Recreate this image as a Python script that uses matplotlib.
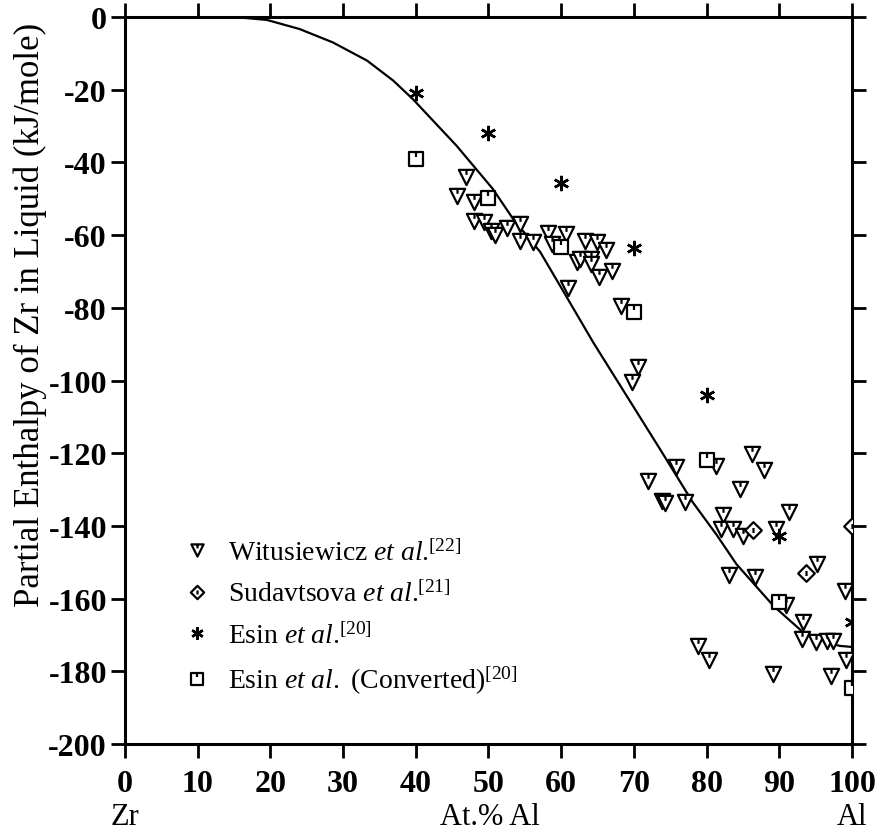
import numpy as np
import matplotlib
matplotlib.use("Agg")
import matplotlib.pyplot as plt
from matplotlib.path import Path

plt.rcParams['font.family'] = ['Liberation Serif', 'DejaVu Serif']
plt.rcParams['mathtext.fontset'] = 'custom'
plt.rcParams['mathtext.rm'] = 'Liberation Serif'
plt.rcParams['mathtext.it'] = 'Liberation Serif:italic'
plt.rcParams['axes.unicode_minus'] = False

# calculated curve
curve_x = [0, 15, 19.5, 24, 28.6, 33.3, 36.9, 39.6, 45.6, 50.6, 53.4, 57.1,
           60.1, 64.4, 69.0, 73.6, 78.1, 81.4, 84.1, 89.2, 93.3, 96.6, 98.3, 100]
curve_y = [0, 0, -0.8, -3.3, -7.0, -12.0, -17.5, -22.6, -35.4, -47.3, -55.6, -64.6,
           -74.8, -89.5, -104.2, -118.9, -133.5, -142.5, -150.5, -162, -169.3, -172, -173, -173.3]

# Witusiewicz et al. [22]
wit_x = [46.9, 45.6, 48.0, 48.0, 49.4, 50.4, 50.9, 52.5, 54.3, 54.3, 56.1, 58.2,
         58.7, 60.7, 63.3, 64.9, 66.2, 62.2, 62.6, 64.1, 64.1, 67.0, 65.2, 60.9,
         68.2, 70.6, 69.8, 81.3, 86.2, 87.9, 75.8, 72.0, 84.6, 73.9, 74.3, 77.0,
         82.3, 91.3, 82.0, 83.6, 85.0, 89.5, 95.2, 83.1, 86.7, 90.9, 99.0, 93.2,
         93.1, 95.0, 96.6, 97.4, 78.8, 80.4, 99.2, 89.1, 97.1]
wit_y = [-44.0, -49.2, -50.9, -56.1, -56.4, -59.0, -60.0, -58.0, -57.0, -61.6, -61.9, -59.4,
         -62.4, -59.7, -61.6, -61.9, -64.1, -67.4, -66.6, -66.6, -67.9, -69.9, -71.5, -74.6,
         -79.6, -96.3, -100.5, -123.4, -120.2, -124.6, -123.8, -127.6, -129.9, -133.2, -133.6, -133.5,
         -137.0, -136.2, -140.9, -140.9, -142.7, -140.9, -150.5, -153.5, -154.0, -161.8, -157.9, -166.4,
         -171.0, -172.0, -171.6, -171.6, -173.0, -177.0, -177.0, -180.8, -181.2]

# Sudavtsova et al. [21]
sud_x = [86.4, 93.7, 100]
sud_y = [-141.1, -153.0, -140.0]

# Esin et al. [20]
esin_x = [40, 50, 60, 70, 80, 90, 100]
esin_y = [-21, -32, -45.7, -63.5, -104, -142.7, -166.5]

# Esin et al. converted [20]
conv_x = [40, 50, 60, 70, 80, 90, 100]
conv_y = [-39, -49.8, -63.3, -81.2, -121.8, -161, -184.6]

# open markers with the little stroke from the top edge
tri = Path([(-1, 1), (1, 1), (0, -1), (-1, 1), (0, 1), (0, 0.35)],
           [Path.MOVETO, Path.LINETO, Path.LINETO, Path.CLOSEPOLY, Path.MOVETO, Path.LINETO])
sq = Path([(-1, -1), (1, -1), (1, 1), (-1, 1), (-1, -1), (0, 1), (0, 0.3)],
          [Path.MOVETO, Path.LINETO, Path.LINETO, Path.LINETO, Path.CLOSEPOLY, Path.MOVETO, Path.LINETO])
dia = Path([(0, -1), (1, 0), (0, 1), (-1, 0), (0, -1), (0, 0.3), (0, -0.3)],
           [Path.MOVETO, Path.LINETO, Path.LINETO, Path.LINETO, Path.CLOSEPOLY, Path.MOVETO, Path.LINETO])

fig = plt.figure(figsize=(8.91, 8.37), dpi=100)
ax = fig.add_axes([0.1403, 0.1099, 0.8159, 0.8686])

ax.plot(curve_x, curve_y, color='black', lw=1.6, zorder=2)
ax.plot(wit_x, wit_y, ls='none', marker=tri, ms=11, mfc='white', mec='black', mew=1.6,
        label=r"Witusiewicz $\mathit{et\ al.}^{\!\![22]}$", zorder=3)
ax.plot(sud_x, sud_y, ls='none', marker=dia, ms=12, mfc='white', mec='black', mew=1.6,
        label=r"Sudavtsova $\mathit{et\ al.}^{\!\![21]}$", zorder=3)
ax.plot(esin_x, esin_y, ls='none', marker=(6, 2, 0), ms=11, mec='black', mew=1.8,
        label=r"Esin $\mathit{et\ al.}^{\!\![20]}$", zorder=3)
ax.plot(conv_x, conv_y, ls='none', marker=sq, ms=10, mfc='white', mec='black', mew=1.6,
        label=r"Esin $\mathit{et\ al.}$ (Converted)$^{[20]}$", zorder=3)

ax.set_xlim(0, 100)
ax.set_ylim(-200, 0)
ax.set_xticks(np.arange(0, 101, 10))
ax.set_yticks(np.arange(-200, 1, 20))
ax.tick_params(direction='out', length=10, width=2, top=True, right=True,
               labelsize=23, pad=3)
ax.tick_params(axis='x', pad=8)
for lab in ax.get_xticklabels() + ax.get_yticklabels():
    lab.set_fontweight('bold')
for s in ax.spines.values():
    s.set_linewidth(2.2)

leg = ax.legend(loc='upper left', bbox_to_anchor=(0.065, 0.297), frameon=False,
                fontsize=20, markerscale=0.8, handlelength=1.0, handletextpad=0.6,
                labelspacing=0.55, borderaxespad=0)

fig.text(125 / 891, 1 - 818 / 837, 'Zr', ha='center', va='center', fontsize=22)
fig.text(490 / 891, 1 - 818 / 837, 'At.% Al', ha='center', va='center', fontsize=22)
fig.text(852 / 891, 1 - 818 / 837, 'Al', ha='center', va='center', fontsize=22)
fig.text(30 / 891, 1 - 315 / 837, 'Partial Enthalpy of Zr in Liquid (kJ/mole)',
         rotation=90, ha='center', va='center', fontsize=25)

fig.savefig('out.png', dpi=100)
